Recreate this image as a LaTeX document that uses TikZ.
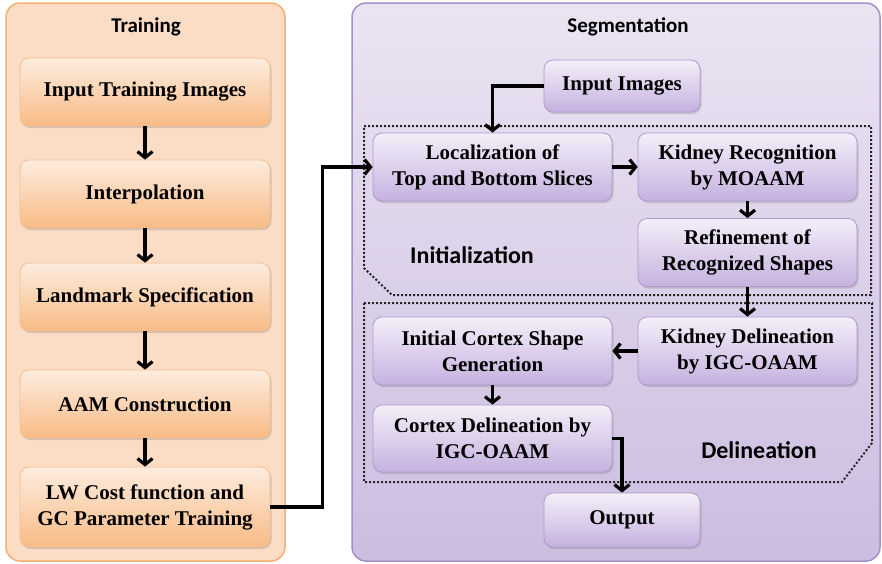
\documentclass[tikz,border=0pt]{standalone}
\usepackage{fontspec}
\setmainfont{Liberation Serif}
\newfontfamily\headfont{Carlito}
\usetikzlibrary{positioning, arrows.meta, shadows}

\definecolor{trainfill}{HTML}{FBDCC5}
\definecolor{trainline}{HTML}{F5AE74}
\definecolor{tboxtop}{HTML}{FDECDF}
\definecolor{tboxbot}{HTML}{F8BB85}
\definecolor{tboxline}{HTML}{F4BE92}
\definecolor{segtop}{HTML}{EAE4F2}
\definecolor{segbot}{HTML}{CCBDE0}
\definecolor{segline}{HTML}{A391C7}
\definecolor{sboxtop}{HTML}{F3EFF9}
\definecolor{sboxbot}{HTML}{C6B1DF}
\definecolor{sboxline}{HTML}{AE99CF}

\tikzset{
  tbox/.style={draw=tboxline, line width=0.8pt, rounded corners=9pt, top color=tboxtop, bottom color=tboxbot,
    minimum width=250pt, minimum height=68pt, inner sep=2pt, align=center,
    font=\bfseries\fontsize{21}{26}\selectfont,
    drop shadow={shadow xshift=1.5pt, shadow yshift=-2pt, opacity=0.3}},
  sbox/.style={draw=sboxline, line width=0.8pt, rounded corners=9pt, top color=sboxtop, bottom color=sboxbot,
    minimum width=239pt, minimum height=68pt, inner sep=2pt, align=center,
    font=\bfseries\fontsize{21}{26}\selectfont,
    drop shadow={shadow xshift=1.5pt, shadow yshift=-2pt, opacity=0.3}},
  headlbl/.style={font=\headfont\bfseries\fontsize{21}{25}\selectfont},
  zonelbl/.style={font=\headfont\bfseries\fontsize{24}{28}\selectfont},
  zone/.style={dotted, line width=2pt, black!85},
  flow/.style={->, line width=3.2pt},
}

\begin{document}
\begin{tikzpicture}[x=1pt, y=-1pt, >={Straight Barb[length=6pt,width=15pt]}]
\useasboundingbox (0,0) rectangle (882,563);
% panels %
\draw[trainline, line width=1.5pt, fill=trainfill, rounded corners=14pt] (6,3) rectangle (285,561);
\draw[segline, line width=1.5pt, top color=segtop, bottom color=segbot, rounded corners=14pt] (352,3) rectangle (880,561);
\draw[zone] (364,126) -- (871,126) -- (871,295) -- (392,295) -- (364,268) -- cycle;
\draw[zone] (364,303) -- (872,303) -- (872,443) -- (842,482) -- (364,482) -- cycle;
% nodes %
\node[headlbl] (train) at (146,27) {Training};
\node[headlbl] (seg) at (628,27) {Segmentation};
\node[zonelbl] (init) at (472,255) {Initialization};
\node[zonelbl] (delin) at (759,450) {Delineation};

\node[tbox] (inti) at (145,92) {Input Training Images};
\node[tbox] (interp) at (145,194) {Interpolation};
\node[tbox] (landmark) at (145,297) {Landmark Specification};
\node[tbox] (aam) at (145,404) {AAM Construction};
\node[tbox, minimum height=80pt] (lwcost) at (145,507) {LW Cost function and\\GC Parameter Training};

\node[sbox, minimum width=156pt, minimum height=52pt] (inimg) at (622,86) {Input Images};
\node[sbox] (loc) at (492.5,167) {Localization of\\Top and Bottom Slices};
\node[sbox, minimum width=219pt] (krec) at (747.5,167) {Kidney Recognition\\by MOAAM};
\node[sbox, minimum width=219pt] (refine) at (747.5,252.5) {Refinement of\\Recognized Shapes};
\node[sbox, minimum width=219pt] (kdel) at (747.5,351) {Kidney Delineation\\by IGC-OAAM};
\node[sbox] (icort) at (492.5,351) {Initial Cortex Shape\\Generation};
\node[sbox, minimum height=67pt] (cdel) at (492.5,438.5) {Cortex Delineation by\\IGC-OAAM};
\node[sbox, minimum width=156pt, minimum height=54pt] (output) at (622,520) {Output};
% edges %
\draw[flow] (inti) -- (interp);
\draw[flow] (interp) -- (landmark);
\draw[flow] (landmark) -- (aam);
\draw[flow] (aam) -- (lwcost);
\draw[flow] (lwcost.east) -- ++(52,0) |- (loc.west);
\draw[flow] (inimg.west) -| (loc.north);
\draw[flow] (loc) -- (krec);
\draw[flow] (krec) -- (refine);
\draw[flow] (refine) -- (kdel);
\draw[flow] (kdel) -- (icort);
\draw[flow] (icort) -- (cdel);
\draw[flow] (cdel.east) -| (output.north);
\end{tikzpicture}
\end{document}
